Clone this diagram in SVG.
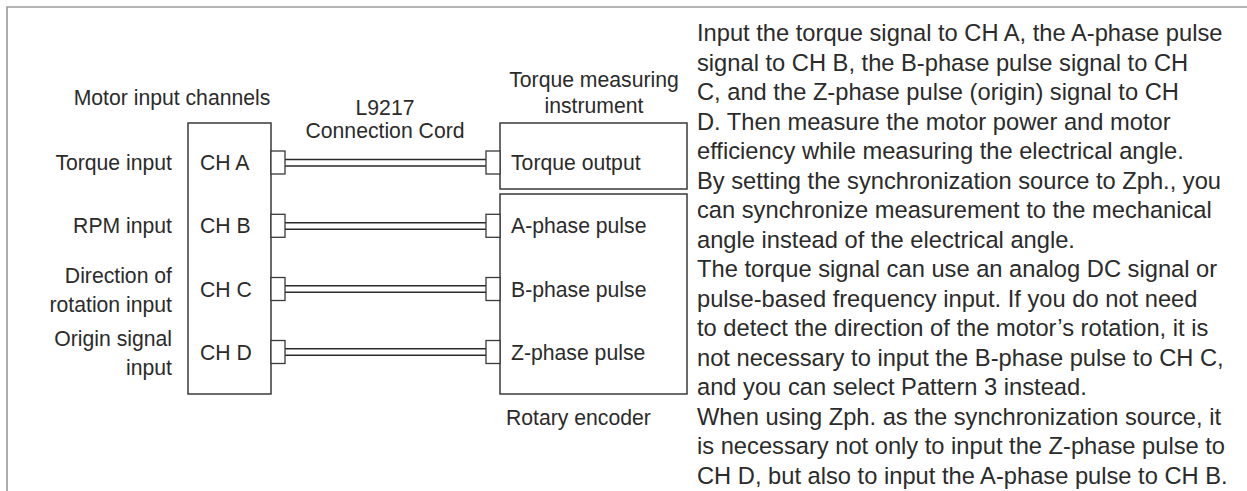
<svg xmlns="http://www.w3.org/2000/svg" width="1247" height="491" viewBox="0 0 1247 491">
<style>
text{font-family:"Liberation Sans",Arial,sans-serif;fill:#2b2b2b}
.lb{font-size:21.2px}
.end{text-anchor:end}
.mid{text-anchor:middle}
.para{font-size:23.7px}
.box{fill:#fff;stroke:#3a3a3a;stroke-width:1.5}
.plug{fill:#fff;stroke:#3a3a3a;stroke-width:1.3}
.cable{stroke:#2b2b2b;stroke-width:1.5;fill:none}
.frame{stroke:#999;stroke-width:1.6;fill:none}
</style>
<path class="frame" d="M7,491 V7 H1247"/>

<g id="motor-channels">
<text class="lb mid" x="172" y="105">Motor input channels</text>
<rect class="box" x="188" y="123" width="83" height="271"/>
<text class="lb" x="200" y="170">CH A</text>
<text class="lb" x="200" y="233">CH B</text>
<text class="lb" x="200" y="297">CH C</text>
<text class="lb" x="200" y="360">CH D</text>
<text class="lb end" x="172" y="170">Torque input</text>
<text class="lb end" x="172" y="233">RPM input</text>
<text class="lb end" x="172" y="283">Direction of</text>
<text class="lb end" x="172" y="312">rotation input</text>
<text class="lb end" x="172" y="346">Origin signal</text>
<text class="lb end" x="172" y="375">input</text>
</g>

<g id="torque-instrument">
<text class="lb mid" x="594" y="87">Torque measuring</text>
<text class="lb mid" x="594" y="113">instrument</text>
<rect class="box" x="500" y="123" width="187" height="66"/>
<text class="lb" x="511" y="170">Torque output</text>
</g>

<g id="rotary-encoder">
<rect class="box" x="500" y="194" width="187" height="200"/>
<text class="lb" x="511" y="233">A-phase pulse</text>
<text class="lb" x="511" y="297">B-phase pulse</text>
<text class="lb" x="511" y="360">Z-phase pulse</text>
<text class="lb" x="506" y="425">Rotary encoder</text>
</g>

<g id="connectors">
<text class="lb mid" x="385" y="115">L9217</text>
<text class="lb mid" x="385" y="138">Connection Cord</text>
<g id="cord-a">
<path class="cable" d="M285,159.5 H486 M285,166 H486"/>
<rect class="plug" x="271" y="151" width="14" height="23"/>
<rect class="plug" x="486" y="151" width="14" height="23"/>
</g>
<g id="cord-b">
<path class="cable" d="M285,222.8 H486 M285,229.3 H486"/>
<rect class="plug" x="271" y="214.3" width="14" height="23"/>
<rect class="plug" x="486" y="214.3" width="14" height="23"/>
</g>
<g id="cord-c">
<path class="cable" d="M285,285.8 H486 M285,292.3 H486"/>
<rect class="plug" x="271" y="277.5" width="14" height="23"/>
<rect class="plug" x="486" y="277.5" width="14" height="23"/>
</g>
<g id="cord-d">
<path class="cable" d="M285,348.8 H486 M285,355.3 H486"/>
<rect class="plug" x="271" y="340.5" width="14" height="23"/>
<rect class="plug" x="486" y="340.5" width="14" height="23"/>
</g>
</g>

<g id="description">
<text class="para" x="697" y="41">Input the torque signal to CH A, the A-phase pulse</text>
<text class="para" x="697" y="70.5">signal to CH B, the B-phase pulse signal to CH</text>
<text class="para" x="697" y="100">C, and the Z-phase pulse (origin) signal to CH</text>
<text class="para" x="697" y="129.5">D. Then measure the motor power and motor</text>
<text class="para" x="697" y="159">efficiency while measuring the electrical angle.</text>
<text class="para" x="697" y="188.5">By setting the synchronization source to Zph., you</text>
<text class="para" x="697" y="218">can synchronize measurement to the mechanical</text>
<text class="para" x="697" y="247.5">angle instead of the electrical angle.</text>
<text class="para" x="697" y="277">The torque signal can use an analog DC signal or</text>
<text class="para" x="697" y="306.5">pulse-based frequency input. If you do not need</text>
<text class="para" x="697" y="336">to detect the direction of the motor’s rotation, it is</text>
<text class="para" x="697" y="365.5">not necessary to input the B-phase pulse to CH C,</text>
<text class="para" x="697" y="395">and you can select Pattern 3 instead.</text>
<text class="para" x="697" y="424.5">When using Zph. as the synchronization source, it</text>
<text class="para" x="697" y="454">is necessary not only to input the Z-phase pulse to</text>
<text class="para" x="697" y="483.5">CH D, but also to input the A-phase pulse to CH B.</text>
</g>
</svg>
